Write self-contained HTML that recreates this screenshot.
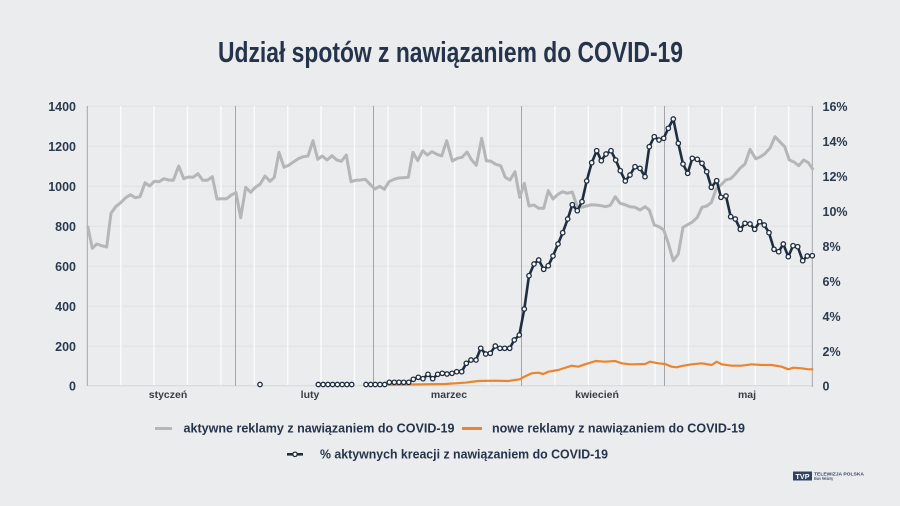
<!DOCTYPE html>
<html>
<head>
<meta charset="utf-8">
<style>
  html,body{margin:0;padding:0;background:#ebeced;}
  svg{display:block;}
  text{font-family:"Liberation Sans","DejaVu Sans",sans-serif;font-weight:bold;}
</style>
</head>
<body>
<svg width="900" height="506" viewBox="0 0 900 506" xmlns="http://www.w3.org/2000/svg">
  <defs>
    <marker id="dot" viewBox="-4 -4 8 8" refX="0" refY="0" markerWidth="8" markerHeight="8" markerUnits="userSpaceOnUse">
      <circle r="2.2" fill="#ffffff" stroke="#1f2d40" stroke-width="1.3"/>
    </marker>
  </defs>
  <rect x="0" y="0" width="900" height="506" fill="#ebeced"/>

  <!-- Title -->
  <text x="218" y="62" font-size="29" fill="#25344b" textLength="465" lengthAdjust="spacingAndGlyphs">Udział spotów z nawiązaniem do COVID-19</text>

  <!-- horizontal gridlines -->
  <g stroke="#e0e1e3" stroke-width="1">
    <line x1="87.3" y1="106.2" x2="812.3" y2="106.2"/>
    <line x1="87.3" y1="146.2" x2="812.3" y2="146.2"/>
    <line x1="87.3" y1="186.2" x2="812.3" y2="186.2"/>
    <line x1="87.3" y1="226.2" x2="812.3" y2="226.2"/>
    <line x1="87.3" y1="266.2" x2="812.3" y2="266.2"/>
    <line x1="87.3" y1="306.2" x2="812.3" y2="306.2"/>
    <line x1="87.3" y1="346.2" x2="812.3" y2="346.2"/>
    <line x1="87.3" y1="385.7" x2="812.3" y2="385.7" stroke="#d6d7d9"/>
  </g>

  <!-- vertical weekly white gridlines -->
  <g stroke="#fafafa" stroke-width="1.5">
    <line x1="120.7" y1="106" x2="120.7" y2="385"/>
    <line x1="154.1" y1="106" x2="154.1" y2="385"/>
    <line x1="187.5" y1="106" x2="187.5" y2="385"/>
    <line x1="220.9" y1="106" x2="220.9" y2="385"/>
    <line x1="254.3" y1="106" x2="254.3" y2="385"/>
    <line x1="287.7" y1="106" x2="287.7" y2="385"/>
    <line x1="321.1" y1="106" x2="321.1" y2="385"/>
    <line x1="354.5" y1="106" x2="354.5" y2="385"/>
    <line x1="387.9" y1="106" x2="387.9" y2="385"/>
    <line x1="421.3" y1="106" x2="421.3" y2="385"/>
    <line x1="454.7" y1="106" x2="454.7" y2="385"/>
    <line x1="488.1" y1="106" x2="488.1" y2="385"/>
    <line x1="554.9" y1="106" x2="554.9" y2="385"/>
    <line x1="588.3" y1="106" x2="588.3" y2="385"/>
    <line x1="621.7" y1="106" x2="621.7" y2="385"/>
    <line x1="655.1" y1="106" x2="655.1" y2="385"/>
    <line x1="688.5" y1="106" x2="688.5" y2="385"/>
    <line x1="721.9" y1="106" x2="721.9" y2="385"/>
    <line x1="755.3" y1="106" x2="755.3" y2="385"/>
    <line x1="788.7" y1="106" x2="788.7" y2="385"/>
  </g>

  <!-- axes and month dividers -->
  <g stroke="#a3a5a8" stroke-width="1">
    <line x1="87.3" y1="106" x2="87.3" y2="386"/>
    <line x1="812.3" y1="106" x2="812.3" y2="387"/>
    <line x1="235.5" y1="106" x2="235.5" y2="386"/>
    <line x1="373.5" y1="106" x2="373.5" y2="386"/>
    <line x1="521.5" y1="106" x2="521.5" y2="386"/>
    <line x1="664.5" y1="106" x2="664.5" y2="386"/>
  </g>

  <!-- left axis labels -->
  <g font-size="12.5" fill="#2c3a4e" text-anchor="end">
    <text x="76" y="111">1400</text>
    <text x="76" y="151">1200</text>
    <text x="76" y="191">1000</text>
    <text x="76" y="231">800</text>
    <text x="76" y="271">600</text>
    <text x="76" y="311">400</text>
    <text x="76" y="351">200</text>
    <text x="76" y="390.5">0</text>
  </g>

  <!-- right axis labels -->
  <g font-size="12.5" fill="#2c3a4e">
    <text x="822.5" y="111">16%</text>
    <text x="822.5" y="146">14%</text>
    <text x="822.5" y="181">12%</text>
    <text x="822.5" y="216">10%</text>
    <text x="822.5" y="251">8%</text>
    <text x="822.5" y="286">6%</text>
    <text x="822.5" y="321">4%</text>
    <text x="822.5" y="356">2%</text>
    <text x="822.5" y="390.5">0</text>
  </g>

  <!-- month labels -->
  <g font-size="10.5" fill="#383d45" text-anchor="middle">
    <text x="168" y="398">styczeń</text>
    <text x="310" y="398">luty</text>
    <text x="449" y="398">marzec</text>
    <text x="597" y="398">kwiecień</text>
    <text x="747" y="398">maj</text>
  </g>

  <!-- gray series: aktywne reklamy -->
  <polyline fill="none" stroke="#b5b6b7" stroke-width="3" stroke-linejoin="round" points="87.7,226 92.3,248.3 96.7,244 101.7,245.7 106.7,247 111,213.3 115.7,206.7 120.7,202.7 125.7,197.7 130.3,194.7 135.3,197.7 140,196.7 145,182.7 149.7,186 154.3,181.3 159,181.7 164,178.7 168.7,180 173.3,180.3 178.7,166 183.7,178.7 188.3,177 193,177.3 198,173.7 202.7,180.3 207.3,180.3 212.3,176.7 217,199 221.7,198.7 226.7,198.7 231.3,195 236,192.7 240.7,217.7 245.7,187.3 250.7,192.3 255.3,187.3 260,184.3 265,176 270,181.3 274.3,177.3 279,152.3 284,167.3 288.7,165.3 293.7,161.7 298.3,158.7 303.3,156.7 308,156 313,140.7 317.7,159.3 322.3,156 327,160 332,155.7 336.7,160 341.3,161.3 346.3,155 351,181.7 355.7,180.3 360.7,180 365.3,179.3 370,184.3 375,189 379.7,186.3 384.3,189.3 389,181.7 394,179.3 398.7,178 403.3,177.7 408.3,177.3 413,152.3 417.7,160.7 422.7,150.7 427.3,155 432,151.7 437,154.3 441.7,156 446.7,140.7 452.3,161 457.3,158.3 462,157.3 467,152 471.7,160 476.3,165.3 481.7,138.3 486.3,160.7 491,161.3 495.7,164.3 500.7,165.7 505.3,177.3 510,180 515,171.7 519.7,197.3 524.3,183.3 529,206 534,205 538.7,208.3 543.7,208.3 548.3,190.7 553,199 558,194.3 562.7,191.7 567.3,193.3 572.3,192 577,206 581.7,207.3 586.7,206 591.3,204.7 596,205 601,205.7 605.7,206.7 610.3,205.3 615.3,196.7 620,203.3 625,204.7 630,206.7 635,207.3 640,210 645,206.7 649.3,210 654.3,225 659,226.7 663.7,230 668.3,243.3 673.3,260.7 678.3,254 683,227.3 687.7,224.7 692.3,222 697.3,217.3 702,207.3 706.7,206 711.3,202.7 716,189.3 721,185 725.7,180 730.7,178.7 735.3,174 740,168.3 745,164 750,149.3 755.7,158.7 760.7,156.7 765.3,153.3 770.3,147.7 775,136.7 779.7,141.7 784.7,146.7 789.3,160 794,162 798.7,165.7 803.7,160 808.3,162.7 813.3,170"/>

  <!-- orange series: nowe reklamy -->
  <polyline fill="none" stroke="#e8852f" stroke-width="2.2" stroke-linejoin="round" points="388,384.8 445,384 465,382.7 478.3,381 495,380.7 508.3,381 519.7,379.3 524.3,376.7 531.7,373.3 538.3,372.7 543.3,374 548.3,371.7 558.3,370 571.7,365.7 578.3,366.7 585,364.3 595.7,361 605,361.7 615,361 621.7,363.3 630,364.3 635,364.3 645,364 650,361.7 658.3,363.3 665,364 671.7,366.7 676.7,367.3 683.3,365.7 691.7,364.3 701.7,363.3 711.7,365 716.7,361.7 721.7,364.3 731.7,365.7 741.7,365.7 751.7,364.3 761.7,365 771.7,365 781.7,366.7 788.3,369.3 793.3,367.7 801.7,368.3 808.3,369.3 813.3,369.3"/>

  <!-- blue series: % aktywnych kreacji -->
  <circle cx="260" cy="384.5" r="2.2" fill="#ffffff" stroke="#1f2d40" stroke-width="1.3"/>
  <polyline fill="none" stroke="#1f2d40" stroke-width="2.6" stroke-linejoin="round" marker-start="url(#dot)" marker-mid="url(#dot)" marker-end="url(#dot)" points="318.3,384.5 323.1,384.5 327.9,384.5 332.6,384.5 337.4,384.5 342.2,384.5 346.9,384.5 351.7,384.5"/>
  <polyline fill="none" stroke="#1f2d40" stroke-width="2.6" stroke-linejoin="round" marker-start="url(#dot)" marker-mid="url(#dot)" marker-end="url(#dot)" points="366,384.5 370.7,384.5 375.3,384.5 380,384.5 384.7,384.5 389.3,382.3 394.3,382.3 399,382.3 403.7,382.3 408.7,382.3 413.3,379.3 418.3,377.3 423,378.7 428,374.3 432.7,378.7 437.7,374.3 442.3,373.3 447,374 452,373.3 456.7,371.7 461.7,371.7 466.3,363.3 471,360 476,360 480.7,348.3 485.7,354 490.3,353.3 495.3,346 500,348.3 504.7,348.3 509.7,348.3 514.3,340 519.3,335 524.3,309 529,275.7 534,264 538.7,260 543.7,269.3 548.3,265.7 553,256 558,244 562.7,232.7 567.7,219 572.3,204.7 577.3,210.7 582,201.7 586.7,181 591.7,162.7 596.7,150.7 601.3,160.7 606,154 611,150.7 615.7,160 620.3,170.7 625.3,181 630,175 635,166.7 640,168.3 645,176.7 649.3,146.7 654.3,136.7 659,140 663.7,138.3 668.3,128.3 673.3,119 678.3,143.3 683,164 687.7,173.3 692.3,158.3 697.3,159.3 702,163.3 706.7,171.7 711.3,187.3 716.7,180.7 721,197.3 726,196 730.7,216.7 735.3,219 740.3,229.3 745,223.3 750,224 754.7,229.3 759.7,221.7 764.3,225 769,232.7 774,249.3 778.7,251.7 783.3,244 788.3,256.7 793,245.7 797.7,246.7 802.7,260.7 807.3,256 812.3,255.7"/>

  <!-- legend -->
  <line x1="155" y1="428.5" x2="172" y2="428.5" stroke="#b5b6b7" stroke-width="3"/>
  <text x="183.5" y="432.5" font-size="13" fill="#25344b" textLength="271" lengthAdjust="spacingAndGlyphs">aktywne reklamy z nawiązaniem do COVID-19</text>
  <line x1="462" y1="428.5" x2="482" y2="428.5" stroke="#e8852f" stroke-width="3"/>
  <text x="492" y="432.5" font-size="13" fill="#25344b" textLength="253" lengthAdjust="spacingAndGlyphs">nowe reklamy z nawiązaniem do COVID-19</text>
  <line x1="287" y1="454.3" x2="303" y2="454.3" stroke="#1f2d40" stroke-width="2.6"/>
  <circle cx="295" cy="454.3" r="2.2" fill="#ffffff" stroke="#1f2d40" stroke-width="1.3"/>
  <text x="320" y="458.5" font-size="13" fill="#25344b" textLength="288" lengthAdjust="spacingAndGlyphs">% aktywnych kreacji z nawiązaniem do COVID-19</text>

  <!-- logo -->
  <rect x="793" y="471.5" width="19" height="9" fill="#2f4366"/>
  <text x="802.5" y="478.8" font-size="7" fill="#ffffff" text-anchor="middle" textLength="14" lengthAdjust="spacingAndGlyphs">TVP</text>
  <text x="814" y="475.5" font-size="4.6" fill="#2f4366" textLength="50" lengthAdjust="spacingAndGlyphs">TELEWIZJA POLSKA</text>
  <text x="814" y="480" font-size="4.2" fill="#4a5a78" font-weight="normal" textLength="19" lengthAdjust="spacingAndGlyphs">Biuro Reklamy</text>
</svg>
</body>
</html>
